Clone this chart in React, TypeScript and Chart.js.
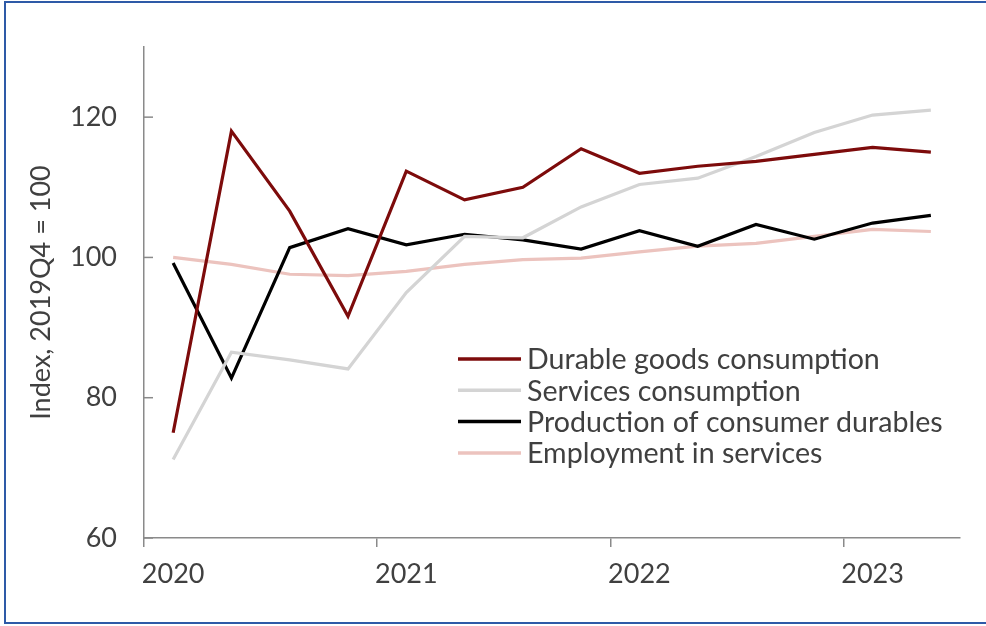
import React, { useEffect, useRef } from "react";
import { Chart, registerables } from "chart.js";

Chart.register(...registerables);

const quarters = [
  "2020Q1", "2020Q2", "2020Q3", "2020Q4",
  "2021Q1", "2021Q2", "2021Q3", "2021Q4",
  "2022Q1", "2022Q2", "2022Q3", "2022Q4",
  "2023Q1", "2023Q2",
];
const yearLabels = ["2020", "2021", "2022", "2023"];
const yTickValues = [60, 80, 100, 120];

const durableGoods = [75.0, 118.0, 106.6, 91.6, 112.3, 108.2, 110.0, 115.5, 112.0, 113.0, 113.7, 114.7, 115.7, 115.0];
const servicesConsumption = [71.2, 86.5, 85.4, 84.1, 95.0, 103.0, 102.8, 107.2, 110.4, 111.3, 114.4, 117.8, 120.3, 121.0];
const productionDurables = [99.2, 82.8, 101.4, 104.1, 101.8, 103.3, 102.5, 101.2, 103.8, 101.6, 104.7, 102.6, 104.9, 106.0];
const employmentServices = [100.0, 99.0, 97.6, 97.4, 98.0, 99.0, 99.7, 99.9, 100.8, 101.6, 102.0, 103.0, 104.0, 103.7];

const seriesNames = [
  "Durable goods consumption",
  "Services consumption",
  "Production of consumer durables",
  "Employment in services",
];
const seriesColors = ["#7d0b0b", "#d4d4d4", "#000000", "#ecc3be"];

const FONT = "Lato";
const TEXT = "#404040";
const AXIS = "#8a8a8a";

const yTicksPlugin = {
  id: "yInwardTicks",
  afterDraw(chart: any) {
    const ctx = chart.ctx;
    const y = chart.scales.y;
    const left = chart.chartArea.left;
    ctx.save();
    ctx.strokeStyle = AXIS;
    ctx.lineWidth = 1.5;
    y.ticks.forEach((t: any) => {
      const py = y.getPixelForValue(t.value);
      ctx.beginPath();
      ctx.moveTo(left, py);
      ctx.lineTo(left + 9, py);
      ctx.stroke();
    });
    ctx.restore();
  },
};

const legendPlugin = {
  id: "insideLegend",
  afterDraw(chart: any) {
    const ctx = chart.ctx;
    const x0 = 458;
    const x1 = 521;
    const tx = 527;
    const y0 = 359;
    const dy = 31.3;
    ctx.save();
    ctx.font = `28.6px ${FONT}`;
    ctx.textBaseline = "middle";
    ctx.textAlign = "left";
    chart.data.datasets.forEach((ds: any, i: number) => {
      const yy = y0 + i * dy;
      ctx.strokeStyle = ds.borderColor;
      ctx.lineWidth = 3.5;
      ctx.beginPath();
      ctx.moveTo(x0, yy);
      ctx.lineTo(x1, yy);
      ctx.stroke();
      ctx.fillStyle = TEXT;
      ctx.fillText(ds.label, tx, yy + 1);
    });
    ctx.restore();
  },
};

export default function App() {
  const ref = useRef<HTMLCanvasElement | null>(null);

  useEffect(() => {
    if (!ref.current) return;
    const seriesData = [durableGoods, servicesConsumption, productionDurables, employmentServices];
    const chart = new Chart(ref.current, {
      type: "line",
      data: {
        labels: quarters,
        datasets: seriesData.map((d, i) => ({
          label: seriesNames[i],
          data: d,
          borderColor: seriesColors[i],
          backgroundColor: seriesColors[i],
          borderWidth: 3.2,
          pointRadius: 0,
          tension: 0,
          fill: false,
        })),
      },
      options: {
        animation: false,
        responsive: false,
        events: [],
        layout: { padding: { top: 47, right: 26, left: 0, bottom: 0 } },
        plugins: {
          legend: { display: false },
          tooltip: { enabled: false },
        },
        scales: {
          x: {
            type: "category",
            offset: true,
            afterFit(scale: any) {
              scale.height = 88;
            },
            border: { display: true, color: AXIS, width: 1.5 },
            grid: {
              offset: true,
              drawOnChartArea: false,
              drawTicks: true,
              tickLength: 9,
              lineWidth: 1.5,
              color: (c: any) => (c.index % 4 === 0 ? AXIS : "rgba(0,0,0,0)"),
            },
            ticks: {
              autoSkip: false,
              maxRotation: 0,
              padding: 11,
              color: TEXT,
              font: { family: FONT, size: 27 },
              callback: (_v: any, i: number) => (i % 4 === 0 ? yearLabels[i / 4] : ""),
            },
          },
          y: {
            min: 60,
            max: 130,
            afterFit(scale: any) {
              scale.width = 144;
            },
            afterBuildTicks(scale: any) {
              scale.ticks = yTickValues.map((v) => ({ value: v }));
            },
            border: { display: true, color: AXIS, width: 1.5 },
            grid: { drawOnChartArea: false, drawTicks: false },
            ticks: {
              padding: 27,
              color: TEXT,
              font: { family: FONT, size: 27 },
            },
            title: {
              display: true,
              text: "Index, 2019Q4 = 100",
              color: TEXT,
              font: { family: FONT, size: 27 },
              padding: { top: 25, bottom: 0 },
            },
          },
        },
      },
      plugins: [yTicksPlugin, legendPlugin],
    });
    return () => chart.destroy();
  }, []);

  return (
    <div style={{ position: "fixed", left: 0, top: 0, width: 986, height: 626, background: "#fff", overflow: "hidden" }}>
      <canvas ref={ref} width={986} height={626} style={{ position: "absolute", left: 0, top: 0 }} />
      <div
        style={{
          position: "absolute",
          left: 4,
          top: 1,
          width: 1000,
          height: 623,
          boxSizing: "border-box",
          border: "2px solid #2e5aa7",
          pointerEvents: "none",
        }}
      />
    </div>
  );
}
